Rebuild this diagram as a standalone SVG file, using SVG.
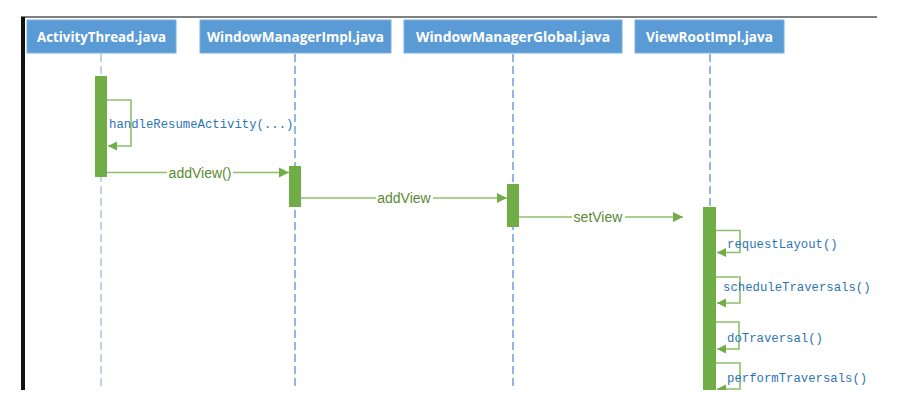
<svg xmlns="http://www.w3.org/2000/svg" width="900" height="410" viewBox="0 0 900 410">
<style>
.hdr{fill:#5B9BD5;stroke:#7FB0DD;stroke-width:1}
.hdrt{font-family:"Open Sans","Liberation Sans",sans-serif;font-weight:bold;font-size:13.5px;fill:#FFFFFF;text-anchor:middle}
.life{stroke:#6FA0DA;stroke-width:1.5;stroke-dasharray:8 4;fill:none}
.act{fill:#70AD47}
.msg{stroke:#8CC06C;stroke-width:1.6;fill:none}
.mlbl{font-family:"Liberation Sans","Open Sans",sans-serif;font-size:14px;fill:#5A8A32;text-anchor:middle}
.slbl{font-family:"Liberation Mono","DejaVu Sans Mono",monospace;font-size:12.3px;fill:#2E75B6}
</style>
<defs>
<marker id="ah" viewBox="0 0 10 10" refX="10" refY="5" markerWidth="10" markerHeight="12" markerUnits="userSpaceOnUse" orient="auto">
<path d="M0,0 L10,5 L0,10 Z" fill="#70AD47"/>
</marker>
<marker id="sh" viewBox="0 0 10 10" refX="10" refY="5" markerWidth="9" markerHeight="10" markerUnits="userSpaceOnUse" orient="auto">
<path d="M0,0 L10,5 L0,10 Z" fill="#70AD47"/>
</marker>
<clipPath id="clip"><rect x="0" y="0" width="900" height="390"/></clipPath>
</defs>
<rect width="900" height="410" fill="#FFFFFF"/>
<g id="frame">
<line x1="21" y1="17" x2="877" y2="17" stroke="#000" stroke-width="1"/>
<rect x="21" y="17" width="4" height="373" fill="#111"/>
</g>
<g clip-path="url(#clip)">
<g id="lifelines">
<line class="life" x1="101" y1="54" x2="101" y2="390" style="stroke:#A6C6E8"/>
<line class="life" x1="295" y1="54" x2="295" y2="390"/>
<line class="life" x1="513" y1="54" x2="513" y2="390"/>
<line class="life" x1="710" y1="54" x2="710" y2="390"/>
</g>
<g id="n-activitythread">
<rect class="hdr" x="27" y="20" width="149" height="33"/>
<text class="hdrt" x="101.5" y="41.5" textLength="129" lengthAdjust="spacingAndGlyphs">ActivityThread.java</text>
<rect class="act" x="95" y="76" width="12" height="101"/>
</g>
<g id="n-windowmanagerimpl">
<rect class="hdr" x="200" y="20" width="191" height="33"/>
<text class="hdrt" x="295.5" y="41.5" textLength="177" lengthAdjust="spacingAndGlyphs">WindowManagerImpl.java</text>
<rect class="act" x="289" y="166" width="12" height="41"/>
</g>
<g id="n-windowmanagerglobal">
<rect class="hdr" x="404" y="20" width="218" height="33"/>
<text class="hdrt" x="513" y="41.5" textLength="194" lengthAdjust="spacingAndGlyphs">WindowManagerGlobal.java</text>
<rect class="act" x="507" y="184" width="12" height="43"/>
</g>
<g id="n-viewrootimpl">
<rect class="hdr" x="635" y="20" width="149" height="33"/>
<text class="hdrt" x="709.5" y="41.5" textLength="127" lengthAdjust="spacingAndGlyphs">ViewRootImpl.java</text>
<rect class="act" x="703" y="207" width="13" height="183"/>
</g>
<g id="connectors">
<polyline class="msg" points="107,100 131,100 131,146 108,146" marker-end="url(#sh)"/>
<text class="slbl" x="109" y="128">handleResumeActivity(...)</text>
<line class="msg" x1="107" y1="172.5" x2="289" y2="172.5" marker-end="url(#ah)"/>
<rect x="167" y="164" width="66" height="17" fill="#FFFFFF"/>
<text class="mlbl" x="200" y="177.5">addView()</text>
<line class="msg" x1="301" y1="198" x2="507" y2="198" marker-end="url(#ah)"/>
<rect x="376" y="190" width="57" height="17" fill="#FFFFFF"/>
<text class="mlbl" x="404" y="203">addView</text>
<line class="msg" x1="519" y1="217" x2="683" y2="217" marker-end="url(#ah)"/>
<rect x="572" y="209" width="53" height="17" fill="#FFFFFF"/>
<text class="mlbl" x="598" y="222">setView</text>
<polyline class="msg" points="716,230.5 740,230.5 740,252.5 717,252.5" marker-end="url(#sh)"/>
<text class="slbl" x="727" y="248">requestLayout()</text>
<polyline class="msg" points="716,277 740,277 740,303 717,303" marker-end="url(#sh)"/>
<text class="slbl" x="723" y="291">scheduleTraversals()</text>
<polyline class="msg" points="716,322 739,322 739,349 717,349" marker-end="url(#sh)"/>
<text class="slbl" x="727" y="342">doTraversal()</text>
<polyline class="msg" points="716,363 740,363 740,389 717,389" marker-end="url(#sh)"/>
<text class="slbl" x="727" y="382">performTraversals()</text>
</g>
</g>
</svg>
